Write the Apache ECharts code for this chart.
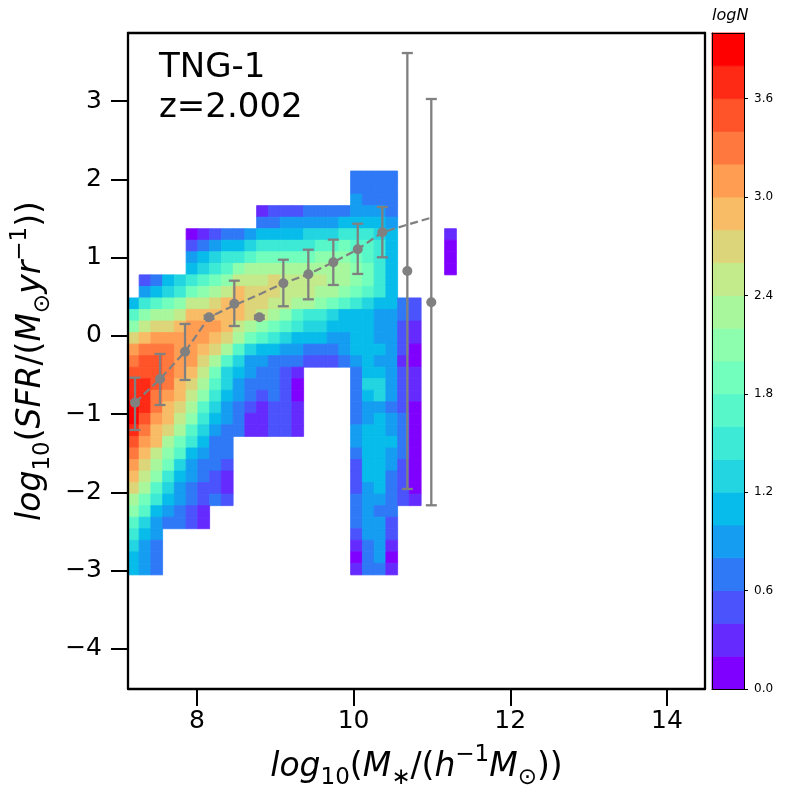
<!DOCTYPE html>
<html>
<head>
<meta charset="utf-8">
<script src="https://cdn.jsdelivr.net/npm/echarts@6/dist/echarts.min.js"></script>
<style>
  html, body { margin: 0; padding: 0; background: #ffffff; }
  #chart-container { width: 800px; height: 800px; }
</style>
</head>
<body>
<div id="chart-container"></div>
<script>
// logN band index per bin (0 -> 0.0-0.2 ... j -> 3.8-4.0), '.' = empty bin
// rows go from top (high SFR) to bottom, columns from low to high mass
const levelRows = [
  '...................3333.....',
  '...................3333.....',
  '...................4333.....',
  '...........122233334443.....',
  '...........334444455554.....',
  '.....012334555566677765....1',
  '.....234556777778898875....0',
  '.....45677899999aaa9875....0',
  '.....5678abbbbbbbbba975....0',
  '.2356789acccdccccbba975.....',
  '.45679abcedddcccbba9875.....',
  '5789accdeeddccbba98765532...',
  '8abbceeeeedcba87765554432...',
  'acddefffecba9876655554421...',
  'defffffedb987655544554421...',
  'fgggffedb8655443334555420...',
  'ghhgffdb86443332223454410...',
  'hhhgfec96543321....355421...',
  'iihgedb86433320....366421...',
  'iigfeca75432320....356421...',
  'jigedb864321221....344320...',
  'jhfeca754311221....345430...',
  'igedb8643311221....455430...',
  'hfeb97533..........455530...',
  'geca85433..........355430...',
  'fdb964332..........255420...',
  'eca754321..........255320...',
  'db8643221..........245320...',
  'b97543232..........344321...',
  'a854321............3433.....',
  '8643321............3442.....',
  '754................2442.....',
  '643................1341.....',
  '543................0340.....',
  '543................1331.....'
];
const massBinStart = 7.112;
const massBinWidth = 0.15;
const sfrBinTop = 2.106;
const sfrBinHeight = 0.1474;

// colorbar levels of logN
const logNLevels = [0, 0.2, 0.4, 0.6, 0.8, 1.0, 1.2, 1.4, 1.6, 1.8, 2.0,
  2.2, 2.4, 2.6, 2.8, 3.0, 3.2, 3.4, 3.6, 3.8, 4.0];
const logNTicks = [0, 0.6, 1.2, 1.8, 2.4, 3.0, 3.6];
// rainbow colormap, one colour per band
const bandColors = ['#8000ff', '#652afe', '#4a53fc', '#2f79f7', '#149df1',
  '#07bcea', '#22d5e0', '#3cead5', '#57f7c9', '#72febc', '#8dfead',
  '#a8f79d', '#c3ea8b', '#ddd579', '#f8bc66', '#ff9d53', '#ff793f',
  '#ff532a', '#ff2a15', '#ff0000'];

// binned median with spread, and the dashed mean relation
const binMass = [7.210, 7.529, 7.848, 8.155, 8.477, 8.797, 9.103, 9.422,
  9.741, 10.053, 10.367, 10.686, 10.992];
const medianSfr = [-0.853, -0.551, -0.202, 0.238, 0.411, 0.238, 0.672,
  0.787, 0.940, 1.106, 1.323, 0.829, 0.429];
const sfrLow = [-1.202, -0.883, -0.563, 0.218, 0.126, 0.218, 0.378, 0.467,
  0.650, 0.791, 1.004, -1.956, -2.164];
const sfrHigh = [-0.534, -0.231, 0.152, 0.258, 0.705, 0.258, 0.973, 1.101,
  1.229, 1.433, 1.646, 3.613, 3.026];
const meanSfr = [-0.853, -0.551, -0.202, 0.238, 0.39, 0.53, 0.672, 0.787,
  0.940, 1.106, 1.323, 1.42, 1.51];

const xTicks = [8, 10, 12, 14];
const yTicks = [-4, -3, -2, -1, 0, 1, 2, 3];

var dom = document.getElementById('chart-container');
var myChart = echarts.init(dom, null, { renderer: 'canvas' });

const FONT = 'DejaVu Sans';
const GREY = '#808080';

// build cells from the level grid
const cells = [];
levelRows.forEach(function (row, r) {
  for (let c = 0; c < row.length; c++) {
    const ch = row[c];
    if (ch === '.') continue;
    const level = parseInt(ch, 36);
    cells.push([
      massBinStart + c * massBinWidth,
      massBinStart + (c + 1) * massBinWidth,
      sfrBinTop - (r + 1) * sfrBinHeight,
      sfrBinTop - r * sfrBinHeight,
      level
    ]);
  }
});

const colorbarCells = [];
for (let k = 0; k < logNLevels.length - 1; k++) {
  colorbarCells.push([0, 1, logNLevels[k], logNLevels[k + 1], k]);
}

function renderCell(params, api) {
  const p0 = api.coord([api.value(0), api.value(3)]);
  const p1 = api.coord([api.value(1), api.value(2)]);
  const color = bandColors[api.value(4)];
  return {
    type: 'rect',
    shape: { x: p0[0], y: p0[1], width: p1[0] - p0[0], height: p1[1] - p0[1] },
    style: { fill: color, stroke: color, lineWidth: 0.8 }
  };
}

function renderErrorBar(params, api) {
  const x = api.value(0);
  const lo = api.coord([x, api.value(1)]);
  const hi = api.coord([x, api.value(2)]);
  const cap = 5.5;
  const style = { stroke: GREY, lineWidth: 2.3 };
  return {
    type: 'group',
    children: [
      { type: 'line', shape: { x1: lo[0], y1: lo[1], x2: hi[0], y2: hi[1] }, style: style },
      { type: 'line', shape: { x1: lo[0] - cap, y1: lo[1], x2: lo[0] + cap, y2: lo[1] }, style: style },
      { type: 'line', shape: { x1: hi[0] - cap, y1: hi[1], x2: hi[0] + cap, y2: hi[1] }, style: style }
    ]
  };
}

const mathRich = {
  i: { fontFamily: FONT, fontStyle: 'italic', fontSize: 33, lineHeight: 46, color: '#000' },
  u: { fontFamily: FONT, fontSize: 33, lineHeight: 46, color: '#000' },
  s: { fontFamily: FONT, fontSize: 23, lineHeight: 24, verticalAlign: 'bottom', color: '#000' },
  p: { fontFamily: FONT, fontSize: 23, lineHeight: 32, verticalAlign: 'top', color: '#000' }
};

function minusFmt(v) {
  return v < 0 ? '\u2212' + Math.abs(v) : String(v);
}

const frameLine = { show: true, onZero: false, lineStyle: { color: '#000', width: 2.3 } };
const thinLine = { show: true, onZero: false, lineStyle: { color: '#000', width: 1 } };

var option = {
  animation: false,
  backgroundColor: '#ffffff',
  textStyle: { fontFamily: FONT },
  title: {
    text: 'TNG-1\nz=2.002',
    left: 159,
    top: 48,
    padding: 0,
    textStyle: { fontFamily: FONT, fontSize: 34, fontWeight: 'normal', color: '#000', lineHeight: 40 }
  },
  graphic: [{
    type: 'text',
    left: 712,
    top: 8,
    style: { text: 'logN', font: 'italic 16px "DejaVu Sans"', fill: '#000' }
  }],
  grid: [
    { left: 128, top: 33, width: 577, height: 656 },
    { left: 712, top: 33, width: 32, height: 656 }
  ],
  xAxis: [
    {
      gridIndex: 0, type: 'value', min: 7.12, max: 14.486, position: 'bottom', z: 10,
      axisLine: frameLine,
      axisTick: { show: true, length: 17, customValues: xTicks, lineStyle: { color: '#000', width: 2 } },
      axisLabel: { customValues: xTicks, fontSize: 25, color: '#000', fontFamily: FONT, margin: 20 },
      splitLine: { show: false },
      name: '{i|log}{s|10}{u|(}{i|M}{s|\u2217}{u|/(}{i|h}{p|\u22121}{i|M}{s|\u2299}{u|))}',
      nameLocation: 'middle',
      nameGap: 55,
      nameTextStyle: { rich: mathRich }
    },
    {
      gridIndex: 0, type: 'value', min: 7.12, max: 14.486, position: 'top', z: 10,
      axisLine: frameLine, axisTick: { show: false }, axisLabel: { show: false }, splitLine: { show: false }
    },
    {
      gridIndex: 1, type: 'value', min: 0, max: 1, position: 'bottom', z: 10,
      axisLine: thinLine, axisTick: { show: false }, axisLabel: { show: false }, splitLine: { show: false }
    },
    {
      gridIndex: 1, type: 'value', min: 0, max: 1, position: 'top', z: 10,
      axisLine: thinLine, axisTick: { show: false }, axisLabel: { show: false }, splitLine: { show: false }
    }
  ],
  yAxis: [
    {
      gridIndex: 0, type: 'value', min: -4.511, max: 3.869, position: 'left', z: 10,
      axisLine: frameLine,
      axisTick: { show: true, length: 17, customValues: yTicks, lineStyle: { color: '#000', width: 2 } },
      axisLabel: { customValues: yTicks, fontSize: 25, color: '#000', fontFamily: FONT, margin: 26, formatter: minusFmt },
      splitLine: { show: false },
      name: '{i|log}{s|10}{u|(}{i|SFR}{u|/(}{i|M}{s|\u2299}{i|yr}{p|\u22121}{u|))}',
      nameLocation: 'middle',
      nameRotate: 90,
      nameGap: 56,
      nameTextStyle: { rich: mathRich }
    },
    {
      gridIndex: 0, type: 'value', min: -4.511, max: 3.869, position: 'right', z: 10,
      axisLine: frameLine, axisTick: { show: false }, axisLabel: { show: false }, splitLine: { show: false }
    },
    {
      gridIndex: 1, type: 'value', min: 0, max: 4, position: 'right', z: 10,
      axisLine: thinLine,
      axisTick: { show: true, length: 4, customValues: logNTicks, lineStyle: { color: '#000', width: 1 } },
      axisLabel: {
        customValues: logNTicks, fontSize: 12, color: '#000', fontFamily: FONT, margin: 10,
        formatter: function (v) { return v.toFixed(1); }
      },
      splitLine: { show: false }
    },
    {
      gridIndex: 1, type: 'value', min: 0, max: 4, position: 'left', z: 10,
      axisLine: thinLine, axisTick: { show: false }, axisLabel: { show: false }, splitLine: { show: false }
    }
  ],
  series: [
    {
      name: 'logN',
      type: 'custom',
      xAxisIndex: 0,
      yAxisIndex: 0,
      clip: true,
      silent: true,
      z: 1,
      encode: { x: [0, 1], y: [2, 3] },
      renderItem: renderCell,
      data: cells
    },
    {
      name: 'mean',
      type: 'line',
      xAxisIndex: 0,
      yAxisIndex: 0,
      z: 3,
      symbol: 'none',
      lineStyle: { color: GREY, width: 2.2, type: [8, 4] },
      data: binMass.map(function (x, i) { return [x, meanSfr[i]]; })
    },
    {
      name: 'spread',
      type: 'custom',
      xAxisIndex: 0,
      yAxisIndex: 0,
      z: 4,
      encode: { x: 0, y: [1, 2] },
      renderItem: renderErrorBar,
      data: binMass.map(function (x, i) { return [x, sfrLow[i], sfrHigh[i]]; })
    },
    {
      name: 'median',
      type: 'scatter',
      xAxisIndex: 0,
      yAxisIndex: 0,
      z: 5,
      symbolSize: 10,
      itemStyle: { color: GREY, opacity: 1 },
      data: binMass.map(function (x, i) { return [x, medianSfr[i]]; })
    },
    {
      name: 'colorbar',
      type: 'custom',
      xAxisIndex: 2,
      yAxisIndex: 2,
      silent: true,
      z: 1,
      encode: { x: [0, 1], y: [2, 3] },
      renderItem: renderCell,
      data: colorbarCells
    }
  ]
};

if (option && typeof option === 'object') {
  myChart.setOption(option);
}

window.addEventListener('resize', myChart.resize);
</script>
</body>
</html>
